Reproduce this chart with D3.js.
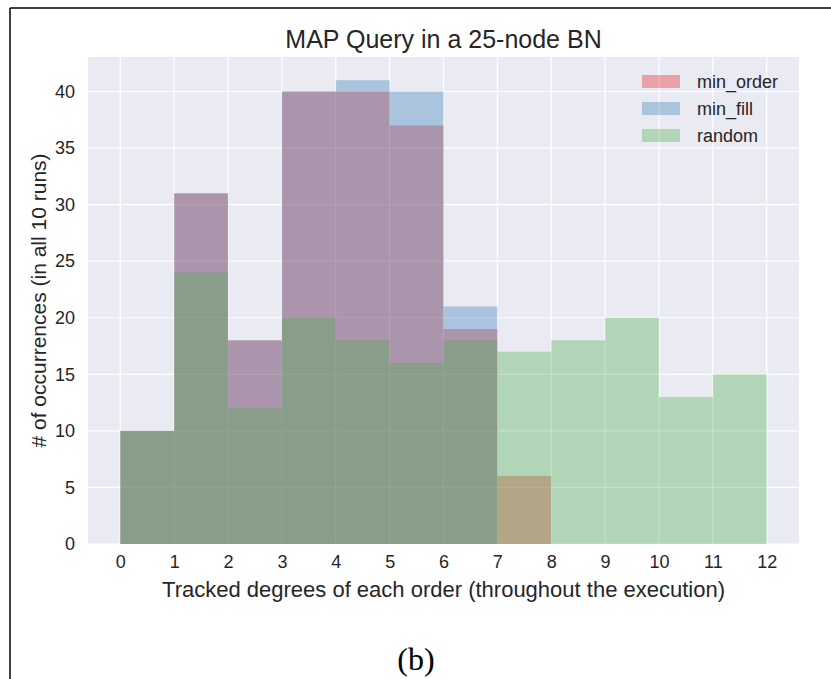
<!DOCTYPE html>
<html>
<head>
<meta charset="utf-8">
<script src="https://cdn.jsdelivr.net/npm/d3@7"></script>
<style>
  html, body { margin: 0; padding: 0; background: #fff; }
  svg { display: block; }
</style>
</head>
<body>
<svg id="chart" width="831" height="679"></svg>
<script>
// bin edges of the histogram (tracked degree)
const binEdges = [0, 1, 2, 3, 4, 5, 6, 7, 8, 9, 10, 11, 12];
// counts per bin, one entry for each [edge, edge+1)
const minOrder = [10, 31, 18, 40, 40, 37, 19, 6, 0, 0, 0, 0];
const minFill = [10, 31, 18, 40, 41, 40, 21, 0, 0, 0, 0, 0];
const randomOrder = [10, 24, 12, 20, 18, 16, 18, 17, 18, 20, 13, 15];
const seriesNames = ['min_order', 'min_fill', 'random'];
const xTicks = [0, 1, 2, 3, 4, 5, 6, 7, 8, 9, 10, 11, 12];
const yTicks = [0, 5, 10, 15, 20, 25, 30, 35, 40];

const series = [
    { name: seriesNames[0], counts: minOrder, color: '#e41a1c' },
    { name: seriesNames[1], counts: minFill, color: '#377eb8' },
    { name: seriesNames[2], counts: randomOrder, color: '#4daf4a' }
];

const svg = d3.select('#chart');
const font = '"Liberation Sans", Arial, sans-serif';
const textColor = '#262626';

// outer frame (left and top only, like the cropped page)
svg.append('line').attr('x1', 10).attr('x2', 10).attr('y1', 8).attr('y2', 679)
    .attr('stroke', '#000').attr('stroke-width', 1.5);
svg.append('line').attr('x1', 10).attr('x2', 831).attr('y1', 8).attr('y2', 8)
    .attr('stroke', '#000').attr('stroke-width', 1.5);

const plot = { left: 88, right: 799, top: 57, bottom: 544 };

// matplotlib style 5% margins on x
const x = d3.scaleLinear().domain([-0.6, 12.6]).range([plot.left, plot.right]);
const yMax = d3.max([minOrder, minFill, randomOrder].flat()) * 1.05;
const y = d3.scaleLinear().domain([0, yMax]).range([plot.bottom, plot.top]);

// background
svg.append('rect')
    .attr('x', plot.left).attr('y', plot.top)
    .attr('width', plot.right - plot.left).attr('height', plot.bottom - plot.top)
    .attr('fill', '#eaeaf2');

// grid
const grid = svg.append('g');
grid.selectAll('.gx').data(xTicks).enter().append('line')
    .attr('x1', d => x(d)).attr('x2', d => x(d))
    .attr('y1', plot.top).attr('y2', plot.bottom)
    .attr('stroke', '#fff').attr('stroke-width', 1.2);
grid.selectAll('.gy').data(yTicks).enter().append('line')
    .attr('x1', plot.left).attr('x2', plot.right)
    .attr('y1', d => y(d)).attr('y2', d => y(d))
    .attr('stroke', '#fff').attr('stroke-width', 1.2);

// bars, drawn in order with transparency
series.forEach(s => {
    svg.append('g')
        .selectAll('rect')
        .data(s.counts.map((c, i) => ({ x0: binEdges[i], x1: binEdges[i + 1], c })))
        .enter().append('rect')
        .attr('x', d => x(d.x0))
        .attr('width', d => x(d.x1) - x(d.x0))
        .attr('y', d => y(d.c))
        .attr('height', d => y(0) - y(d.c))
        .attr('fill', s.color)
        .attr('fill-opacity', 0.35);
});

// axes
const xAxis = svg.append('g')
    .attr('transform', `translate(0,${plot.bottom})`)
    .call(d3.axisBottom(x).tickValues(xTicks).tickSize(0).tickPadding(11).tickFormat(d3.format('d')));
const yAxis = svg.append('g')
    .attr('transform', `translate(${plot.left},0)`)
    .call(d3.axisLeft(y).tickValues(yTicks).tickSize(0).tickPadding(13).tickFormat(d3.format('d')));
[xAxis, yAxis].forEach(a => {
    a.select('.domain').remove();
    a.selectAll('text')
        .attr('font-family', font)
        .attr('font-size', 18)
        .attr('fill', textColor);
});

// title and labels
svg.append('text')
    .attr('x', (plot.left + plot.right) / 2).attr('y', 48)
    .attr('text-anchor', 'middle')
    .attr('font-family', font).attr('font-size', 25).attr('fill', textColor)
    .text('MAP Query in a 25-node BN');

svg.append('text')
    .attr('x', (plot.left + plot.right) / 2).attr('y', 597)
    .attr('text-anchor', 'middle')
    .attr('font-family', font).attr('font-size', 22).attr('fill', textColor)
    .text('Tracked degrees of each order (throughout the execution)');

svg.append('text')
    .attr('transform', `translate(46,${(plot.top + plot.bottom) / 2}) rotate(-90)`)
    .attr('text-anchor', 'middle')
    .attr('font-family', font).attr('font-size', 21).attr('fill', textColor)
    .text('# of occurrences (in all 10 runs)');

// legend
const legend = svg.append('g').attr('transform', 'translate(642,75)');
series.forEach((s, i) => {
    const row = legend.append('g').attr('transform', `translate(0,${i * 27})`);
    row.append('rect')
        .attr('width', 38).attr('height', 13)
        .attr('fill', s.color).attr('fill-opacity', 0.35);
    row.append('text')
        .attr('x', 55).attr('y', 13)
        .attr('font-family', font).attr('font-size', 18).attr('fill', textColor)
        .text(s.name);
});

// sub-figure caption
svg.append('text')
    .attr('x', 416).attr('y', 670)
    .attr('text-anchor', 'middle')
    .attr('font-family', '"Liberation Serif", "Times New Roman", serif')
    .attr('font-size', 32).attr('fill', '#000')
    .text('(b)');
</script>
</body>
</html>
